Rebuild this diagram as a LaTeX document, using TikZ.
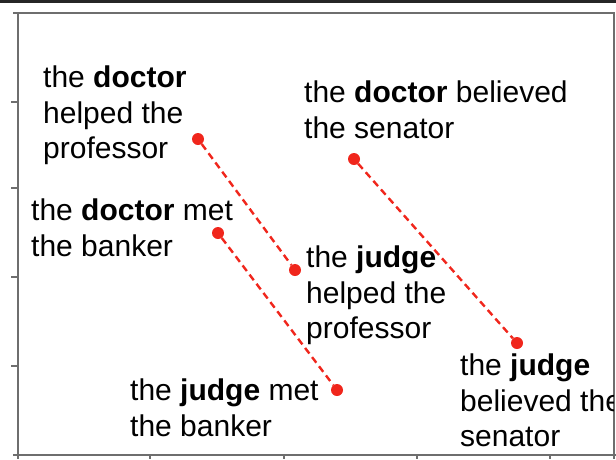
\documentclass[tikz,border=0pt]{standalone}
\usepackage{fontspec}
\setmainfont{Liberation Sans}
\usetikzlibrary{positioning}
\definecolor{dotred}{RGB}{240,38,28}
\definecolor{axisgray}{RGB}{110,110,110}

\begin{document}
\begin{tikzpicture}[
  x=1pt, y=-1pt,
  lbl/.style={anchor=north west, inner sep=0pt, align=left, font=\fontsize{30}{35.5}\selectfont},
  dot/.style={circle, fill=dotred, inner sep=0pt, minimum size=12pt},
  link/.style={dotred, dashed, dash pattern=on 7pt off 4.5pt, line width=2.4pt},
  axis/.style={axisgray, line width=2pt},
]
\useasboundingbox (0,0) rectangle (616,459);
\fill[black!85] (0,0) rectangle (616,3);
% frame and ticks
\draw[axis] (13,12.5) -- (614,12.5) -- (614,459);
\draw[axis] (18,12.5) -- (18,459);
\draw[axis] (13,455) -- (616,455);
\foreach \ty in {102,188,277,366}
  \draw[axis] (11,\ty) -- (18,\ty);
\foreach \tx in {150,284,417,550}
  \draw[axis] (\tx,455) -- (\tx,459);
% labels
\begin{scope}
\clip (0,0) rectangle (613,459);
\node[lbl] (dochelp) at (43,66) {the \textbf{doctor}\\helped the\\professor};
\node[lbl] (docbel) at (304,81) {the \textbf{doctor} believed\\the senator};
\node[lbl] (docmet) at (31,199) {the \textbf{doctor} met\\the banker};
\node[lbl] (judhelp) at (306,246) {the \textbf{judge}\\helped the\\professor};
\node[lbl] (judmet) at (130,379) {the \textbf{judge} met\\the banker};
\node[lbl] (judbel) at (460,354) {the \textbf{judge}\\believed the\\senator};
\end{scope}
% points
\node[dot] (p1) at (198,139) {};
\node[dot] (p2) at (295,270) {};
\node[dot] (p3) at (218,233) {};
\node[dot] (p4) at (337,390) {};
\node[dot] (p5) at (354,159) {};
\node[dot] (p6) at (517,343) {};
\draw[link] (p1) -- (p2);
\draw[link] (p3) -- (p4);
\draw[link] (p5) -- (p6);
\end{tikzpicture}
\end{document}
